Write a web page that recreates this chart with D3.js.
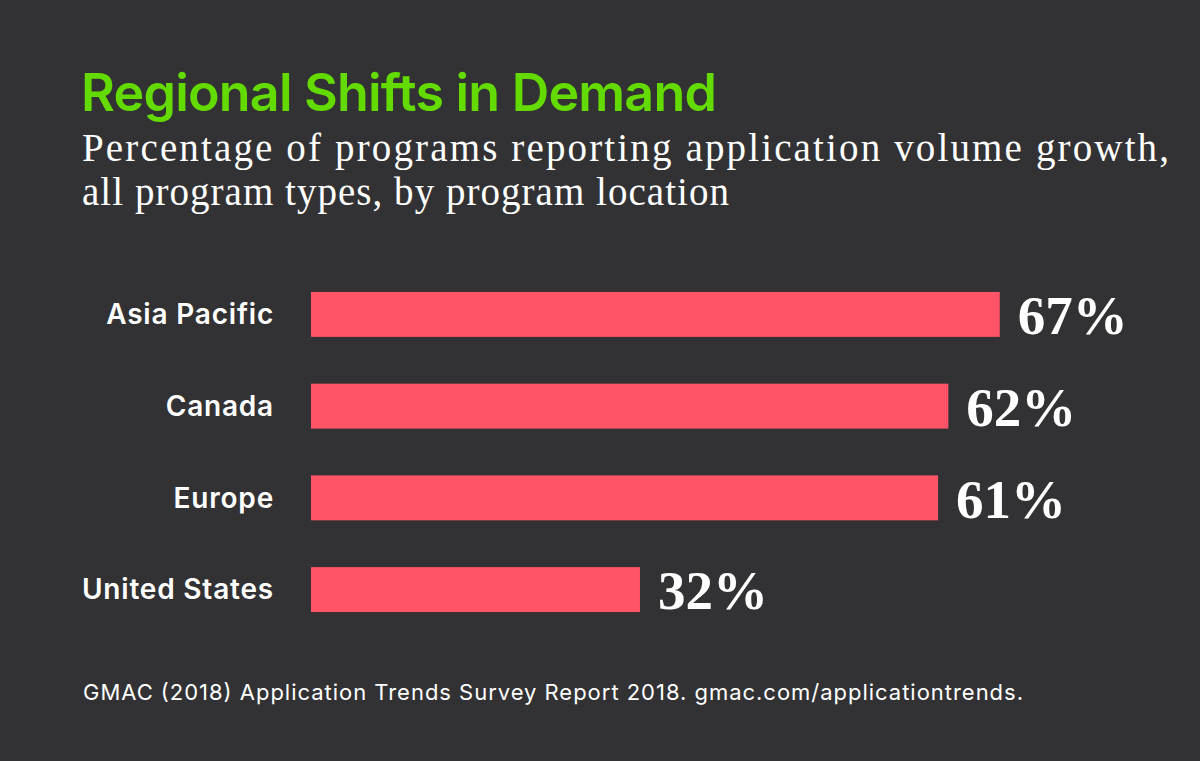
<!DOCTYPE html>
<html lang="en">
<head>
    <meta charset="UTF-8">
    <title>Regional Shifts in Demand</title>
    <script src="https://d3js.org/d3.v7.min.js"></script>
    <style>
        body{
            margin: 0;
            background-color: #323234;
        }
        .title{
            font-family: "Inter", "Open Sans", sans-serif;
            font-weight: 600;
            font-size: 52px;
            letter-spacing: -0.8px;
            fill: #63da00;
        }
        .subtitle{
            font-family: "Liberation Serif", serif;
            font-size: 39px;
            fill: #ffffff;
        }
        .label{
            font-family: "Inter", "Open Sans", sans-serif;
            font-weight: 600;
            font-size: 28px;
            letter-spacing: 0.8px;
            fill: #ffffff;
        }
        .value{
            font-family: "Liberation Serif", serif;
            font-weight: 700;
            font-size: 55px;
            fill: #ffffff;
        }
        .source{
            font-family: "Inter", "Open Sans", sans-serif;
            font-size: 22px;
            fill: #ffffff;
        }
    </style>
</head>
<body>
    <script>
        // chart data
        const regions = ["Asia Pacific", "Canada", "Europe", "United States"]
        const growth = [67, 62, 61, 32]

        const svgSize = {width:1200,height:761}
        const margin = {top:292,left:311,bottom:150,right:100}

        const svg = d3.select("body")
                        .append("svg")
                        .attr("width",svgSize.width)
                        .attr("height",svgSize.height)

        svg.append("rect")
            .attr("width",svgSize.width)
            .attr("height",svgSize.height)
            .attr("fill","#323234")

        const xScale = d3.scaleLinear()
                            .domain([0,100])
                            .range([margin.left, margin.left+1028])

        const yScale = d3.scaleBand()
                            .domain(regions)
                            .range([margin.top-45, 612+45])
                            .paddingInner(0.51)
                            .paddingOuter(0.49)

        // titles
        svg.append("text")
            .attr("class","title")
            .attr("x",81)
            .attr("y",111)
            .text("Regional Shifts in Demand")

        const subLines = [
            {text:"Percentage of programs reporting application volume growth,", len:1087},
            {text:"all program types, by program location", len:647}
        ]
        svg.selectAll(".subtitle")
            .data(subLines)
            .enter()
            .append("text")
            .attr("class","subtitle")
            .attr("x",82)
            .attr("y",(d,i)=> 161 + i*44)
            .attr("textLength",d=> d.len)
            .attr("lengthAdjust","spacing")
            .text(d=> d.text)

        const rows = regions.map((r,i)=> ({region:r, value:growth[i]}))

        const bar = svg.selectAll(".row")
                        .data(rows)
                        .enter()
                        .append("g")
                        .attr("class","row")

        bar.append("rect")
            .attr("x",xScale(0))
            .attr("y",d=> yScale(d.region))
            .attr("width",d=> xScale(d.value)-xScale(0))
            .attr("height",yScale.bandwidth())
            .attr("fill","#ff5468")

        bar.append("text")
            .attr("class","label")
            .attr("x",274)
            .attr("y",d=> yScale(d.region)+yScale.bandwidth()/2)
            .attr("dy","0.35em")
            .attr("text-anchor","end")
            .text(d=> d.region)

        bar.append("text")
            .attr("class","value")
            .attr("x",d=> xScale(d.value)+18)
            .attr("y",d=> yScale(d.region)+yScale.bandwidth()/2)
            .attr("dy","0.36em")
            .text(d=> d.value+"%")

        svg.append("text")
            .attr("class","source")
            .attr("x",83)
            .attr("y",700)
            .attr("textLength",940)
            .attr("lengthAdjust","spacing")
            .text("GMAC (2018) Application Trends Survey Report 2018. gmac.com/applicationtrends.")
    </script>
</body>
</html>
